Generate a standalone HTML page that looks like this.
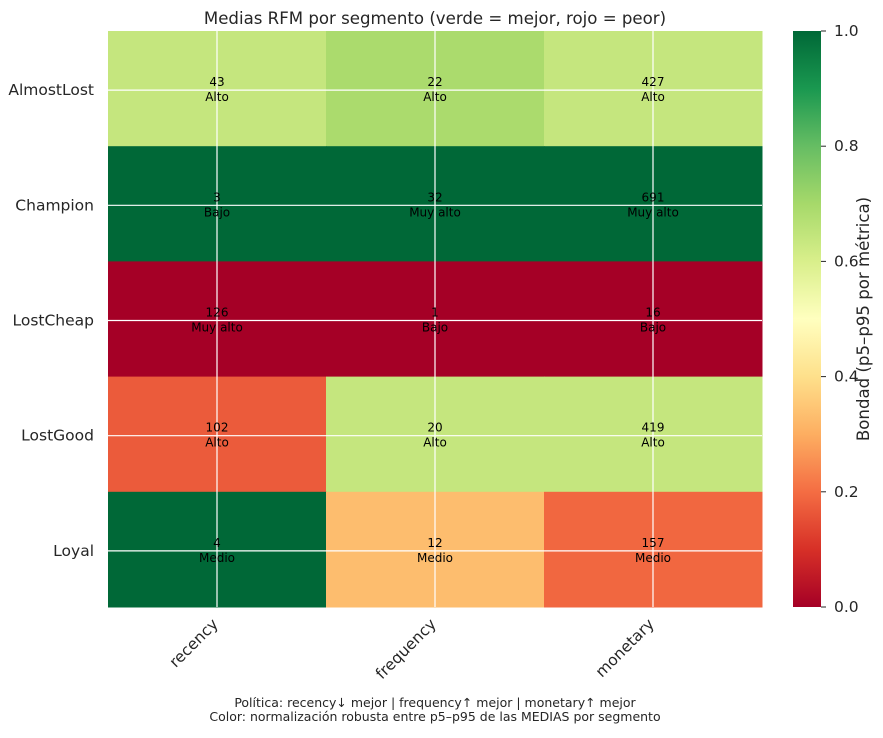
<!DOCTYPE html>
<html><head><meta charset="utf-8"><style>
body{margin:0;background:#fff;}
svg text{font-family:"DejaVu Sans","Liberation Sans",sans-serif;}
</style></head><body>
<svg id="c" width="883" height="733" xmlns="http://www.w3.org/2000/svg">
<defs><linearGradient id="cb" x1="0" y1="1" x2="0" y2="0">
<stop offset="0" stop-color="#a50026"/><stop offset="0.1" stop-color="#d73027"/><stop offset="0.2" stop-color="#f46d43"/><stop offset="0.3" stop-color="#fdae61"/><stop offset="0.4" stop-color="#fee08b"/><stop offset="0.5" stop-color="#ffffbf"/><stop offset="0.6" stop-color="#d9ef8b"/><stop offset="0.7" stop-color="#a6d96a"/><stop offset="0.8" stop-color="#66bd63"/><stop offset="0.9" stop-color="#1a9850"/><stop offset="1" stop-color="#006837"/>
</linearGradient></defs>
<text x="435" y="24" text-anchor="middle" font-size="16.6" fill="#262626">Medias RFM por segmento (verde = mejor, rojo = peor)</text>
<g id="cells"></g><g id="grid"></g><g id="labels"></g><g id="axes"></g>
<rect x="793" y="31" width="28" height="576" fill="url(#cb)"/>
<g id="cbticks"></g>
<text transform="translate(869,319) rotate(-90)" text-anchor="middle" font-size="16.6" fill="#262626">Bondad (p5–p95 por métrica)</text>
<text x="435" y="707" text-anchor="middle" font-size="12.5" fill="#262626">Política: recency↓ mejor | frequency↑ mejor | monetary↑ mejor</text>
<text x="435" y="721" text-anchor="middle" font-size="12.5" fill="#262626">Color: normalización robusta entre p5–p95 de las MEDIAS por segmento</text>
</svg>
<script>
const segments=["AlmostLost","Champion","LostCheap","LostGood","Loyal"];
const metrics=["recency","frequency","monetary"];
const goodness=[[0.64,0.69,0.64],[1,1,1],[0,0,0],[0.17,0.64,0.64],[1,0.33,0.19]];
const means=[["43","22","427"],["3","32","691"],["126","1","16"],["102","20","419"],["4","12","157"]];
const levels=[["Alto","Alto","Alto"],["Bajo","Muy alto","Muy alto"],["Muy alto","Bajo","Bajo"],["Alto","Alto","Alto"],["Medio","Medio","Medio"]];
const cbTicks=["0.0","0.2","0.4","0.6","0.8","1.0"];
const X0=108,X1=762,Y0=31,Y1=607;
const cw=(X1-X0)/metrics.length,rh=(Y1-Y0)/segments.length;
const xs=i=>X0+cw*(i+0.5), ys=j=>Y0+rh*(j+0.5)+1.5;
const stops=["#a50026","#d73027","#f46d43","#fdae61","#fee08b","#ffffbf","#d9ef8b","#a6d96a","#66bd63","#1a9850","#006837"];
function hex(h){return [1,3,5].map(k=>parseInt(h.substr(k,2),16));}
function cmap(v){v=Math.max(0,Math.min(1,v));const p=v*10,i=Math.min(9,Math.floor(p)),t=p-i;const a=hex(stops[i]),b=hex(stops[i+1]);return "rgb("+a.map((c,k)=>Math.round(c+(b[k]-c)*t)).join(",")+")";}
const NS="http://www.w3.org/2000/svg";
function mk(tag,attrs,parent,txt){const e=document.createElementNS(NS,tag);for(const k in attrs)e.setAttribute(k,attrs[k]);if(txt!==undefined)e.textContent=txt;document.getElementById(parent).appendChild(e);return e;}
segments.forEach((s,j)=>{metrics.forEach((m,i)=>{
 const r=mk("rect",{x:X0+cw*i,y:Y0+rh*j,width:cw+0.5,height:rh+0.5,fill:cmap(goodness[j][i])},"cells");
 
 
 const t1=mk("text",{x:xs(i),y:ys(j)-4,"text-anchor":"middle","font-size":"12",fill:"#000"},"labels",means[j][i]);
 
 
 const t2=mk("text",{x:xs(i),y:ys(j)+11,"text-anchor":"middle","font-size":"12",fill:"#000"},"labels",levels[j][i]);
 
 
});});
metrics.forEach((m,i)=>{
 const l=mk("line",{x1:xs(i),x2:xs(i),y1:Y0,y2:Y1,stroke:"#fff","stroke-width":1.2},"grid");
 
 
 const t=mk("text",{transform:"translate("+(xs(i)+2)+","+(Y1+18)+") rotate(-45)","text-anchor":"end","font-size":"15.5",fill:"#262626"},"axes",m);
 
 
});
segments.forEach((s,j)=>{
 const l=mk("line",{x1:X0,x2:X1,y1:ys(j),y2:ys(j),stroke:"#fff","stroke-width":1.2},"grid");
 
 
 const t=mk("text",{x:94,y:ys(j)+5,"text-anchor":"end","font-size":"15.5",fill:"#262626"},"axes",s);
 
 
});
cbTicks.forEach((v)=>{
 const y=Y1-(Y1-Y0)*parseFloat(v);
 const l=mk("line",{x1:821,x2:826,y1:y,y2:y,stroke:"#262626","stroke-width":1},"cbticks");
 
 
 const t=mk("text",{x:834,y:y+5,"font-size":"15.5",fill:"#262626"},"cbticks",v);
 
 
});
</script>
</body></html>
